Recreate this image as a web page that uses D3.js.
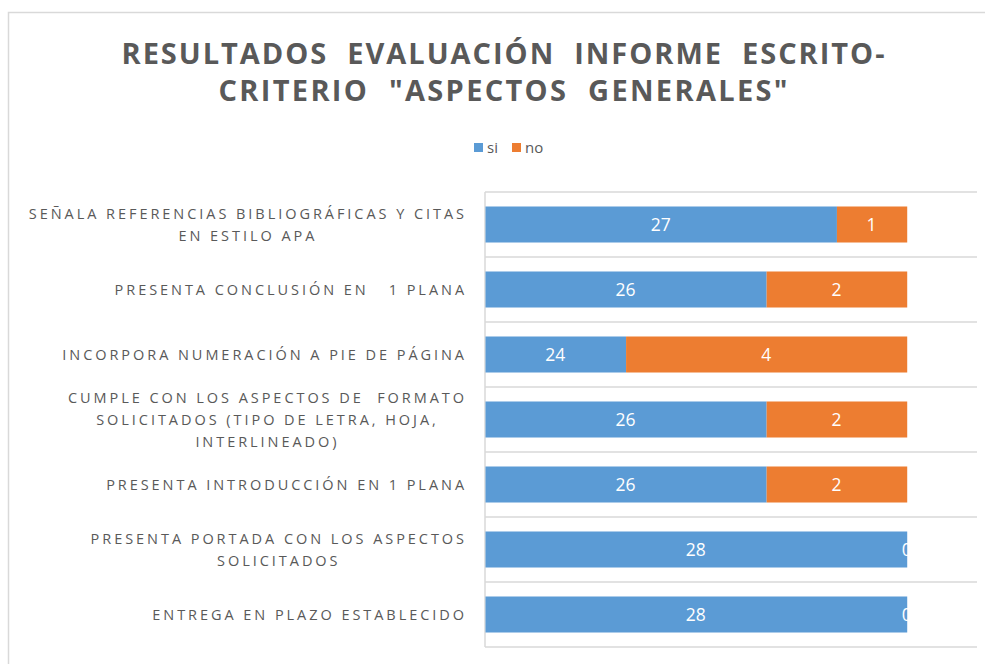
<!DOCTYPE html>
<html>
<head>
<meta charset="utf-8">
<script src="https://cdn.jsdelivr.net/npm/d3@7"></script>
<style>
  body { margin: 0; background: #fff; }
  svg { display: block; }
  text { font-family: "Open Sans", "Liberation Sans", sans-serif; }
</style>
</head>
<body>
<div id="chart"></div>
<script>
"use strict"

// Categories, top to bottom (each entry is its wrapped lines)
const categories = [
  "SEÑALA REFERENCIAS BIBLIOGRÁFICAS Y CITAS EN ESTILO APA",
  "PRESENTA CONCLUSIÓN EN   1 PLANA",
  "INCORPORA NUMERACIÓN A PIE DE PÁGINA",
  "CUMPLE CON LOS ASPECTOS DE  FORMATO SOLICITADOS (TIPO DE LETRA, HOJA, INTERLINEADO)",
  "PRESENTA INTRODUCCIÓN EN 1 PLANA",
  "PRESENTA PORTADA CON LOS ASPECTOS SOLICITADOS",
  "ENTREGA EN PLAZO ESTABLECIDO"
];
const categoryLines = [
  ["SEÑALA REFERENCIAS BIBLIOGRÁFICAS Y CITAS", "EN ESTILO APA"],
  ["PRESENTA CONCLUSIÓN EN   1 PLANA"],
  ["INCORPORA NUMERACIÓN A PIE DE PÁGINA"],
  ["CUMPLE CON LOS ASPECTOS DE  FORMATO", "SOLICITADOS (TIPO DE LETRA, HOJA,", "INTERLINEADO)"],
  ["PRESENTA INTRODUCCIÓN EN 1 PLANA"],
  ["PRESENTA PORTADA CON LOS ASPECTOS", "SOLICITADOS"],
  ["ENTREGA EN PLAZO ESTABLECIDO"]
];
const siValues = [27, 26, 24, 26, 26, 28, 28];
const noValues = [1, 2, 4, 2, 2, 0, 0];
const seriesNames = ["si", "no"];
const seriesColors = ["#5B9BD5", "#ED7D31"];
const axisDomain = [22, 29];
const titleLines = ["RESULTADOS  EVALUACIÓN  INFORME  ESCRITO-", "CRITERIO  \"ASPECTOS  GENERALES\""];

const width = 985;
const height = 664;
const plot = {left: 485, right: 977, top: 192, bottom: 647};
const gray = "#595959";
const lineGray = "#d9d9d9";

const data = categories.map((c, i) => ({cat: c, si: siValues[i], no: noValues[i]}));

const svg = d3.select("#chart").append("svg")
  .attr("width", width)
  .attr("height", height);

svg.append("rect")
  .attr("width", width)
  .attr("height", height)
  .attr("fill", "#fff");

// chart frame (continues past the right and bottom edge)
svg.append("rect")
  .attr("x", 8.5)
  .attr("y", 12.5)
  .attr("width", width + 20)
  .attr("height", height + 20)
  .attr("fill", "none")
  .attr("stroke", lineGray)
  .attr("stroke-width", 1.5);

// Title
const title = svg.append("text")
  .attr("text-anchor", "middle")
  .attr("fill", gray)
  .attr("font-size", 29)
  .attr("font-weight", "bold")
  .style("white-space", "pre");

title.selectAll("tspan")
  .data(titleLines)
  .enter().append("tspan")
    .attr("x", 503)
    .attr("y", (d, i) => 64 + i * 37)
    .attr("textLength", (d, i) => i == 0 ? 763 : 569)
    .attr("lengthAdjust", "spacing")
    .text(d => d);

// Legend
const legend = svg.append("g")
  .attr("transform", translate(474, 143));

const legendItems = legend.selectAll("g")
  .data(seriesNames)
  .enter().append("g")
    .attr("transform", (d, i) => translate(i * 38, 0));

legendItems.append("rect")
  .attr("width", 9)
  .attr("height", 9)
  .attr("fill", (d, i) => seriesColors[i]);

legendItems.append("text")
  .attr("x", 13)
  .attr("y", 10)
  .attr("font-size", 15)
  .attr("fill", gray)
  .text(d => d);

// Scales
const xScale = d3.scaleLinear()
  .domain(axisDomain)
  .range([plot.left, plot.right]);

const yScale = d3.scaleBand()
  .domain(categories)
  .range([plot.top, plot.bottom])
  .paddingInner(0.446)
  .paddingOuter(0.223);

const stack = d3.stack().keys(seriesNames)(data);

// Horizontal gridlines on category boundaries
const gap = (yScale.step() - yScale.bandwidth()) / 2;
const gridYs = categories.map(c => yScale(c) - gap).concat([plot.bottom]);

svg.append("g")
  .attr("class", "grid")
  .selectAll("line")
  .data(gridYs)
  .enter().append("line")
    .attr("x1", plot.left)
    .attr("x2", plot.right)
    .attr("y1", d => d)
    .attr("y2", d => d)
    .attr("stroke", lineGray)
    .attr("stroke-width", 1.5);

// Vertical axis line
svg.append("line")
  .attr("x1", plot.left)
  .attr("x2", plot.left)
  .attr("y1", plot.top)
  .attr("y2", plot.bottom)
  .attr("stroke", lineGray)
  .attr("stroke-width", 1.5);

// Bars (axis starts at 22, so segments are clamped to it)
const clampX = v => xScale(Math.max(v, axisDomain[0]));

const layers = svg.append("g")
  .selectAll("g")
  .data(stack)
  .enter().append("g")
    .attr("fill", (d, i) => seriesColors[i]);

layers.selectAll("rect")
  .data(d => d)
  .enter().append("rect")
    .attr("x", d => clampX(d[0]) + 0.5)
    .attr("y", d => yScale(d.data.cat))
    .attr("width", d => Math.max(0, clampX(d[1]) - clampX(d[0])))
    .attr("height", yScale.bandwidth());

// Value labels (white, centred in the visible segment)
layers.selectAll("text")
  .data((d, i) => d.map(p => ({p: p, key: seriesNames[i]})))
  .enter().append("text")
    .attr("x", d => (clampX(d.p[0]) + clampX(d.p[1])) / 2)
    .attr("y", d => yScale(d.p.data.cat) + yScale.bandwidth() / 2)
    .attr("dy", "0.36em")
    .attr("text-anchor", "middle")
    .attr("font-size", 17.5)
    .attr("fill", "#fff")
    .text(d => d.p.data[d.key]);

// Category labels: block right-aligned at 467, lines centred within the block
const labelRight = 467;
const lineHeight = 22;

const labels = svg.append("g")
  .attr("class", "ylabels")
  .selectAll("text")
  .data(categories)
  .enter().append("text")
    .attr("fill", gray)
    .attr("font-size", 14.5)
    .attr("letter-spacing", 2.95)
    .attr("text-anchor", "middle")
    .style("white-space", "pre");

labels.each(function(c, i) {
  const el = d3.select(this);
  const lines = categoryLines[i];
  const cy = yScale(c) + yScale.bandwidth() / 2;
  const spans = el.selectAll("tspan")
    .data(lines)
    .enter().append("tspan")
      .attr("y", (d, j) => cy + (j - (lines.length - 1) / 2) * lineHeight)
      .attr("dy", "0.36em")
      .text(d => d);
  let maxW = 0;
  spans.each(function() { maxW = Math.max(maxW, this.getComputedTextLength()); });
  spans.attr("x", labelRight - maxW / 2);
});

function translate(x, y) {
  return `translate(${x}, ${y})`;
}
</script>
</body>
</html>
